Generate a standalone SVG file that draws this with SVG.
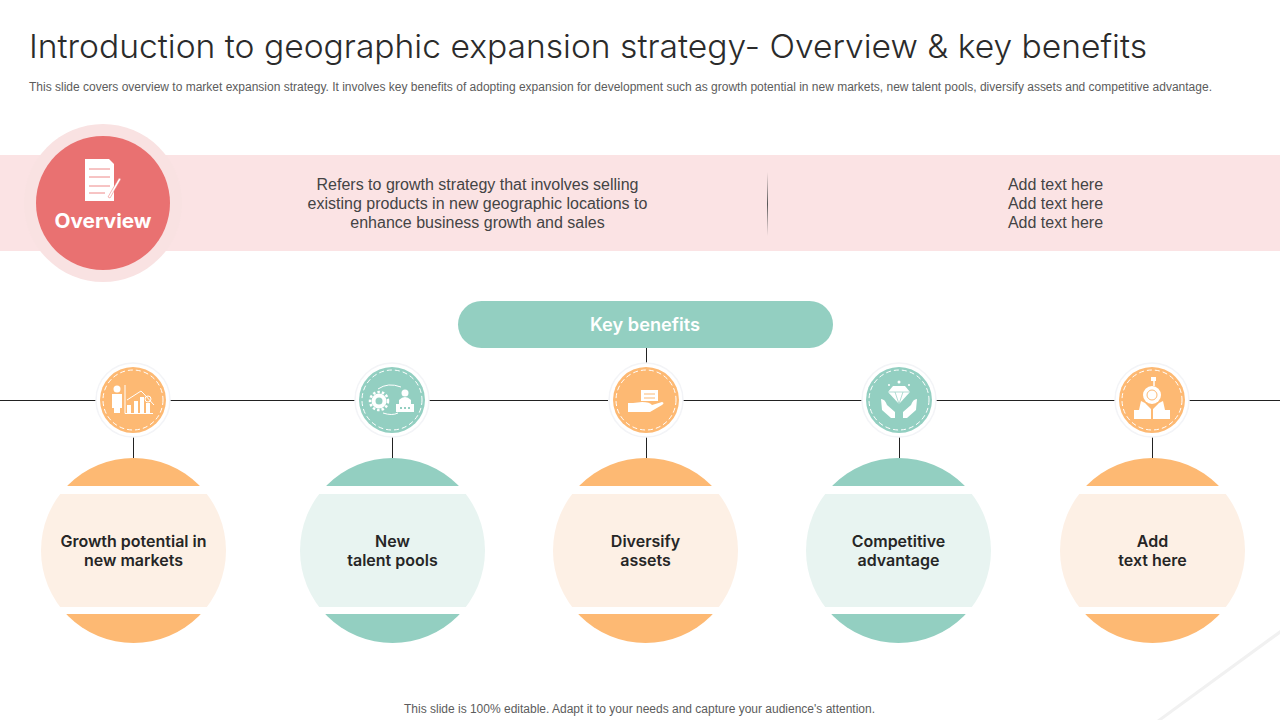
<svg xmlns="http://www.w3.org/2000/svg" xmlns:xlink="http://www.w3.org/1999/xlink" width="1280" height="720" viewBox="0 0 1280 720">
<style>
.sans{font-family:"Liberation Sans",Arial,sans-serif}
.geo{font-family:"Inter","Open Sans",sans-serif}
.title{font-size:33px;fill:#2b2b2b;font-family:"Inter","Open Sans",sans-serif;font-weight:300}
.sub{font-size:12px;fill:#5c5c5c}
.body{font-size:16px;fill:#444;text-anchor:middle}
.lab{font-size:16px;font-weight:600;fill:#262626;text-anchor:middle;font-family:"Inter","Open Sans",sans-serif}
.conn{stroke:#222;stroke-width:1;fill:none}
.halo{fill:#fff;stroke:#f3f4f7;stroke-width:1.500}
.dash{fill:none;stroke:#fff;stroke-width:1;stroke-dasharray:5 3}
.or{fill:#fdb973}.te{fill:#93cfc1}
.orl{fill:#fdf0e5}.tel{fill:#e8f4f1}
.w{fill:#fff}.wl{stroke:#fff;fill:none;stroke-width:1.500}
</style>
<defs>
<linearGradient id="fade" x1="0" y1="0" x2="0" y2="1"><stop offset="0" stop-color="#666" stop-opacity="0"/><stop offset=".5" stop-color="#555"/><stop offset="1" stop-color="#666" stop-opacity="0"/></linearGradient>
<clipPath id="cTop"><rect x="-100" y="-100" width="200" height="128"/></clipPath>
<clipPath id="cMid"><rect x="-100" y="36" width="200" height="113"/></clipPath>
<clipPath id="cBot"><rect x="-100" y="156" width="200" height="100"/></clipPath>
<g id="capsO"><circle cx="0" cy="92.500" r="92.500" class="orl" clip-path="url(#cMid)"/><circle cx="0" cy="92.500" r="92.500" class="or" clip-path="url(#cTop)"/><circle cx="0" cy="92.500" r="92.500" class="or" clip-path="url(#cBot)"/></g>
<g id="capsT"><circle cx="0" cy="92.500" r="92.500" class="tel" clip-path="url(#cMid)"/><circle cx="0" cy="92.500" r="92.500" class="te" clip-path="url(#cTop)"/><circle cx="0" cy="92.500" r="92.500" class="te" clip-path="url(#cBot)"/></g>
</defs>
<rect width="1280" height="720" fill="#fff"/>
<path d="M1157 720L1280 630V634L1162 720Z" fill="#f1f1f1"/>

<text x="29" y="58" class="title" textLength="1118" lengthAdjust="spacingAndGlyphs">Introduction to geographic expansion strategy- Overview &amp; key benefits</text>
<text x="29" y="91" class="sans sub" textLength="1183" lengthAdjust="spacing">This slide covers overview to market expansion strategy. It involves key benefits of adopting expansion for development such as growth potential in new markets, new talent pools, diversify assets and competitive advantage.</text>

<g id="overview-band">
<rect x="0" y="155" width="1280" height="96" fill="#fbe3e4"/>
<text class="sans body" x="477.500" y="190">Refers to growth strategy that involves selling</text>
<text class="sans body" x="477.500" y="209">existing products in new geographic locations to</text>
<text class="sans body" x="477.500" y="228">enhance business growth and sales</text>
<rect x="767" y="172" width="1" height="64" fill="url(#fade)"/>
<text class="sans body" x="1055.500" y="190">Add text here</text>
<text class="sans body" x="1055.500" y="209">Add text here</text>
<text class="sans body" x="1055.500" y="228">Add text here</text>
</g>

<g id="overview-node">
<circle cx="103" cy="203" r="79" fill="#f9e2e2"/>
<circle cx="103" cy="203" r="67" fill="#e97171"/>
<path d="M85 159H109L114 164V201H85Z" class="w"/>
<path d="M89 169H110M89 177H110M89 186H110M89 193H105" stroke="#e88" stroke-width="1"/>
<path d="M108 197L119 178L121 179L110 198Z" fill="#fff" stroke="#e97171" stroke-width=".5"/>
<text x="103" y="228" text-anchor="middle" font-size="20" font-weight="700" fill="#fff" class="geo" textLength="97" lengthAdjust="spacingAndGlyphs">Overview</text>
</g>

<g id="connectors">
<path class="conn" d="M0 400.500H96M170 400.500H355M429 400.500H608M683 400.500H862M936 400.500H1115M1189 400.500H1280"/>
<path class="conn" d="M646.500 348V363M133.500 437V458M392.500 437V458M646.500 437V458M899.500 437V458M1152.500 437V458"/>
</g>

<g id="key-benefits">
<rect x="458" y="301" width="375" height="47" rx="23.500" fill="#93cfc1"/>
<text x="645" y="330.500" text-anchor="middle" font-size="18" font-weight="600" fill="#fff" class="geo" textLength="110" lengthAdjust="spacingAndGlyphs">Key benefits</text>
</g>

<g id="benefit-1">
<circle cx="133" cy="400" r="37" class="halo"/><circle cx="133" cy="400" r="33" class="or"/><circle cx="133" cy="400" r="30" class="dash"/>
<circle cx="117" cy="389" r="3.500" class="w"/><path d="M112 394H122V408H120V413H114V408H112Z" class="w"/>
<path stroke="#fff" fill="none" d="M125 385V413.500H153"/>
<path d="M127 405h4v8h-4zM134 401h4v12h-4zM140 397h4v16h-4zM146 403h4v10h-4z" class="w"/>
<path stroke="#fff" fill="none" d="M127 400L141 391L144 394L154 405"/><circle cx="148" cy="399" r="3" fill="none" stroke="#fff"/>
<use href="#capsO" xlink:href="#capsO" x="133.500" y="458"/>
<text class="lab" x="133.500" y="547">Growth potential in</text><text class="lab" x="133.500" y="566">new markets</text>
</g>

<g id="benefit-2">
<circle cx="392" cy="400" r="37" class="halo"/><circle cx="392" cy="400" r="33" class="te"/><circle cx="392" cy="400" r="30" class="dash"/>
<circle cx="379" cy="401" r="5.500" fill="none" stroke="#fff" stroke-width="4"/><circle cx="379" cy="401" r="9" fill="none" stroke="#fff" stroke-width="2.500" stroke-dasharray="2.500 2"/>
<circle cx="405" cy="393" r="3.500" class="w"/><path d="M399 404V400Q405 394 411 400V404Z" class="w"/>
<path d="M396 404H414V412H396Z" class="w"/><path d="M400 408H410" stroke="#93cfc1" stroke-width="2" stroke-dasharray="2 2"/>
<path d="M378 389Q388 382 401 387M383 413Q392 416 398 413" fill="none" stroke="#fff"/>
<use href="#capsT" xlink:href="#capsT" x="392.500" y="458"/>
<text class="lab" x="392.500" y="547">New</text><text class="lab" x="392.500" y="566">talent pools</text>
</g>

<g id="benefit-3">
<circle cx="646" cy="400" r="37" class="halo"/><circle cx="646" cy="400" r="33" class="or"/><circle cx="646" cy="400" r="30" class="dash"/>
<path d="M641 390H658V401H641Z" class="w"/><path d="M644 394H655M644 398H655" stroke="#fdb973"/>
<path d="M628 403H633L642 402Q650 402 652 405L662 402Q665 403 662 405L650 412H636L633 412H628Z" class="w"/>
<use href="#capsO" xlink:href="#capsO" x="645.500" y="458"/>
<text class="lab" x="645.500" y="547">Diversify</text><text class="lab" x="645.500" y="566">assets</text>
</g>

<g id="benefit-4">
<circle cx="899" cy="400" r="37" class="halo"/><circle cx="899" cy="400" r="33" class="te"/><circle cx="899" cy="400" r="30" class="dash"/>
<path d="M893 386H905L910 392L899 404L888 392Z" class="w"/><path d="M888 392H910M895 392L899 404L903 392" stroke="#93cfc1" stroke-width=".7" fill="none"/>
<circle cx="899" cy="382" r="1.500" class="w"/><circle cx="889" cy="385" r="1" class="w"/><circle cx="909" cy="385" r="1" class="w"/>
<path d="M881 399Q885 399 887 405L895 412V418H891L882 410Z" class="w"/><path d="M917 399Q913 399 911 405L903 412V418H907L916 410Z" class="w"/>
<use href="#capsT" xlink:href="#capsT" x="898.500" y="458"/>
<text class="lab" x="898.500" y="547">Competitive</text><text class="lab" x="898.500" y="566">advantage</text>
</g>

<g id="benefit-5">
<circle cx="1152" cy="400" r="37" class="halo"/><circle cx="1152" cy="400" r="33" class="or"/><circle cx="1152" cy="400" r="30" class="dash"/>
<circle cx="1152" cy="395" r="9" class="w"/><circle cx="1152" cy="395" r="5" fill="none" stroke="#fdb973"/>
<path d="M1154 386V381" stroke="#fff" stroke-width="1.500"/><path d="M1151 381h5v-4h-5z" class="w"/>
<path d="M1134 410H1139L1141 401L1145 403L1151 409V419H1134ZM1170 410H1165L1163 401L1159 403L1153 409V419H1170Z" class="w"/>
<use href="#capsO" xlink:href="#capsO" x="1152.500" y="458"/>
<text class="lab" x="1152.500" y="547">Add</text><text class="lab" x="1152.500" y="566">text here</text>
</g>

<text x="639.500" y="713" text-anchor="middle" font-size="12" fill="#5c5c5c" class="sans" textLength="471">This slide is 100% editable. Adapt it to your needs and capture your audience's attention.</text>
</svg>
